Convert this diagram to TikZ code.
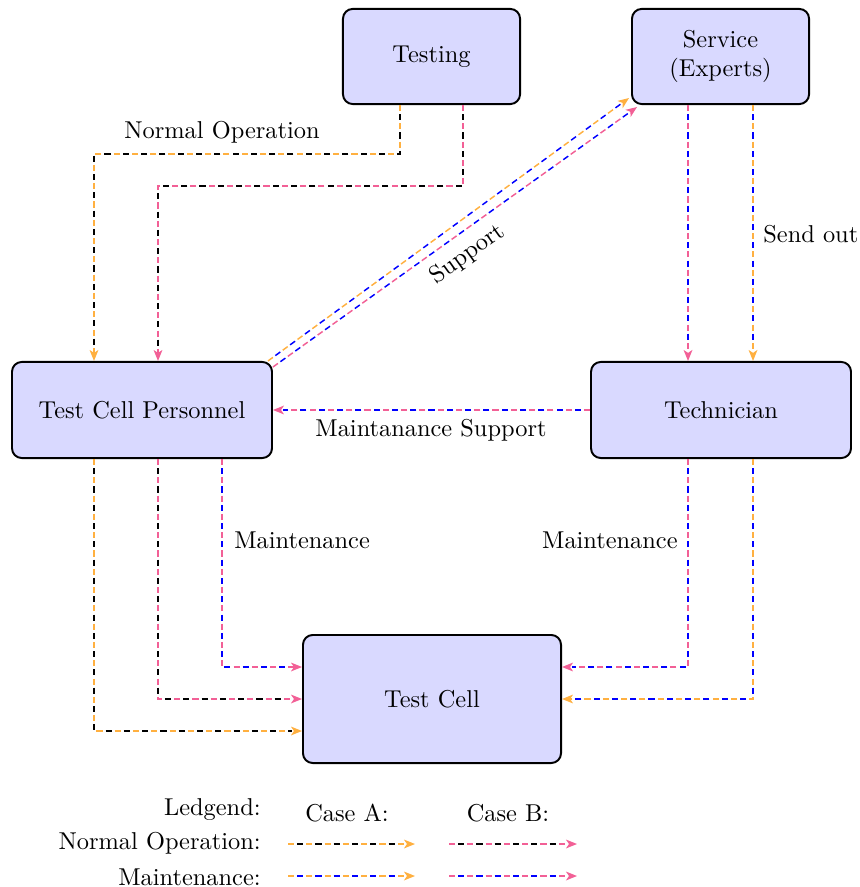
\documentclass[tikz,border=0pt]{standalone}
\usetikzlibrary{arrows.meta,calc}
\definecolor{boxfill}{RGB}{217,217,255}
\definecolor{lineorange}{RGB}{255,176,64}
\definecolor{linepink}{RGB}{242,96,150}
\tikzset{
  box/.style={draw, thick, fill=boxfill, rounded corners=4pt, align=center, inner sep=2pt},
  % two-coloured dashed connector: first colour carries the tip
  duo/.style 2 args={draw=#1, semithick, dash pattern=on 2.5pt off 5pt,
    -{Stealth[length=4.5pt,width=3.6pt,inset=1.2pt]},
    postaction={draw=#2, dash pattern=on 2.5pt off 5pt, dash phase=3.75pt, -, shorten >=4pt}},
  normA/.style={duo={lineorange}{black}},
  normB/.style={duo={linepink}{black}},
  mainA/.style={duo={lineorange}{blue}},
  mainB/.style={duo={linepink}{blue}},
  lbl/.style={inner sep=2pt},
}
\begin{document}
\begin{tikzpicture}[x=0.41pt,y=-0.41pt]
\useasboundingbox (0,0) rectangle (859,887);

% boxes
\node[box, minimum width=72.6pt, minimum height=39pt] (testing) at (431.5,56.5) {Testing};
\node[box, minimum width=72.6pt, minimum height=39pt] (service) at (720.5,56.5) {Service\\(Experts)};
\node[box, minimum width=106.6pt, minimum height=39.4pt] (tcp) at (142,410) {Test Cell Personnel};
\node[box, minimum width=106.6pt, minimum height=39.4pt] (tech) at (721,410) {Technician};
\node[box, minimum width=105.8pt, minimum height=52.5pt] (cell) at (432,699) {Test Cell};

% bend points
\coordinate (bA) at (94,154);
\coordinate (bB) at (158,186);
\coordinate (sL) at ($(service.south)+(-32.5,0)$);
\coordinate (sR) at ($(service.south)+(32.5,0)$);

% Testing -> Test Cell Personnel
\draw[normA] ($(testing.south)+(-31.5,0)$) |- (bA) -- (tcp.north -| bA);
\draw[normB] ($(testing.south)+(31.5,0)$) |- (bB) -- (tcp.north -| bB);
\node[lbl] (lnormal) at (222,132) {Normal Operation};

% Test Cell Personnel -> Service (Support)
\draw[mainA] ($(tcp.north east)+(-5,0)$) -- ($(service.south west)+(-2,-7)$);
\draw[mainB] ($(tcp.north east)+(0,6)$) -- node[lbl, sloped, below, inner sep=4pt] (lsupport) {Support} ($(service.south west)+(6,2)$);

% Service -> Technician
\draw[mainB] (sL) -- (tech.north -| sL);
\draw[mainA] (sR) -- (tech.north -| sR);
\node[lbl, anchor=west] (lsend) at (758,234) {Send out};

% Technician -> Test Cell Personnel
\draw[mainB] (tech.west) -- (tcp.east);
\node[lbl] (lmsupport) at (431,430) {Maintanance Support};

% Test Cell Personnel -> Test Cell
\draw[normA] ($(tcp.south)+(-48,0)$) |- ($(cell.west)+(0,32)$);
\draw[normB] ($(tcp.south)+(16,0)$) |- (cell.west);
\draw[mainB] ($(tcp.south)+(80,0)$) |- ($(cell.west)+(0,-32)$);
\node[lbl, anchor=west] (lmaint1) at (229,540) {Maintenance};

% Technician -> Test Cell
\draw[mainB] ($(tech.south)+(-33,0)$) |- ($(cell.east)+(0,-32)$);
\draw[mainA] ($(tech.south)+(32,0)$) |- (cell.east);
\node[lbl, anchor=east] (lmaint2) at (683,540) {Maintenance};

% legend
\node[lbl, anchor=east] (lgd) at (266,810) {Ledgend:};
\node[lbl] (lcaseA) at (347,813) {Case A:};
\node[lbl] (lcaseB) at (508,813) {Case B:};
\node[lbl, anchor=east] (lgnorm) at (266,843) {Normal Operation:};
\node[lbl, anchor=east] (lgmaint) at (266,877) {Maintenance:};

\coordinate (an0) at (288,844); \coordinate (an1) at (415,844);
\coordinate (bn0) at (449,844); \coordinate (bn1) at (577,844);
\coordinate (am0) at (288,876); \coordinate (am1) at (415,876);
\coordinate (bm0) at (449,876); \coordinate (bm1) at (577,876);
\draw[normA] (an0) -- (an1);
\draw[normB] (bn0) -- (bn1);
\draw[mainA] (am0) -- (am1);
\draw[mainB] (bm0) -- (bm1);
\end{tikzpicture}
\end{document}
